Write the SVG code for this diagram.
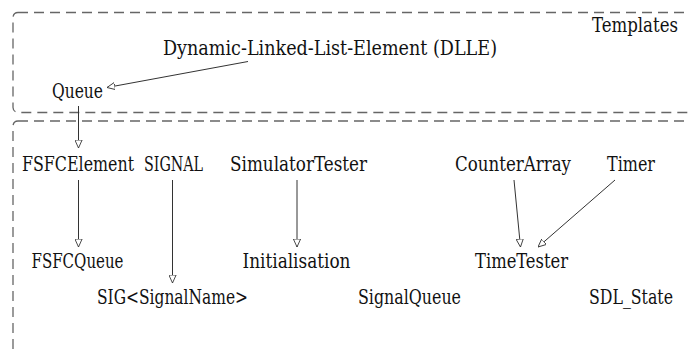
<svg xmlns="http://www.w3.org/2000/svg" width="690" height="351" viewBox="0 0 690 351">
<style>
.t{font-family:'DejaVu Serif Condensed','DejaVu Serif','Liberation Serif',serif;font-stretch:condensed;font-size:20px;fill:#111}
.box{fill:none;stroke:#666;stroke-width:1.3;stroke-dasharray:10 6}
.c{fill:none;stroke:#333;stroke-width:1}
</style>
<defs>
<marker id="h" viewBox="0 0 10 10" refX="10" refY="5" markerWidth="8" markerHeight="8" markerUnits="userSpaceOnUse" orient="auto">
<path d="M0,0.5 L10,5 L0,9.5 Z" fill="#fff" stroke="#333" stroke-width="1.1"/>
</marker>
</defs>
<g id="templates-box"><rect class="box" x="13" y="12.5" width="700" height="100" rx="5"/></g>
<g id="main-box"><rect class="box" x="13" y="121" width="700" height="260" rx="5"/></g>
<g id="connectors">
<line class="c" x1="248" y1="61.5" x2="107" y2="87.5" marker-end="url(#h)"/>
<line class="c" x1="78.5" y1="106" x2="78.5" y2="148" marker-end="url(#h)"/>
<line class="c" x1="78.5" y1="180" x2="78.5" y2="247" marker-end="url(#h)"/>
<line class="c" x1="172.5" y1="180" x2="172.5" y2="283" marker-end="url(#h)"/>
<line class="c" x1="297" y1="180" x2="297" y2="247" marker-end="url(#h)"/>
<line class="c" x1="514" y1="180" x2="520.5" y2="247" marker-end="url(#h)"/>
<line class="c" x1="615" y1="180" x2="538" y2="247" marker-end="url(#h)"/>
</g>
<g id="Templates"><text class="t" x="592" y="32" textLength="86" lengthAdjust="spacingAndGlyphs">Templates</text></g>
<g id="DLLE"><text class="t" x="163" y="55" textLength="334" lengthAdjust="spacingAndGlyphs">Dynamic-Linked-List-Element (DLLE)</text></g>
<g id="Queue"><text class="t" x="52" y="97.5" textLength="51" lengthAdjust="spacingAndGlyphs">Queue</text></g>
<g id="FSFCElement"><text class="t" x="22" y="171" textLength="112" lengthAdjust="spacingAndGlyphs">FSFCElement</text></g>
<g id="SIGNAL"><text class="t" x="144" y="171" textLength="59" lengthAdjust="spacingAndGlyphs">SIGNAL</text></g>
<g id="SimulatorTester"><text class="t" x="230" y="171" textLength="137" lengthAdjust="spacingAndGlyphs">SimulatorTester</text></g>
<g id="CounterArray"><text class="t" x="455" y="171" textLength="116" lengthAdjust="spacingAndGlyphs">CounterArray</text></g>
<g id="Timer"><text class="t" x="607" y="171" textLength="48" lengthAdjust="spacingAndGlyphs">Timer</text></g>
<g id="FSFCQueue"><text class="t" x="31.5" y="267.5" textLength="92" lengthAdjust="spacingAndGlyphs">FSFCQueue</text></g>
<g id="Initialisation"><text class="t" x="242.5" y="267.5" textLength="108" lengthAdjust="spacingAndGlyphs">Initialisation</text></g>
<g id="TimeTester"><text class="t" x="475" y="267.5" textLength="93" lengthAdjust="spacingAndGlyphs">TimeTester</text></g>
<g id="SIGSignalName"><text class="t" x="97" y="304" textLength="151" lengthAdjust="spacingAndGlyphs">SIG&lt;SignalName&gt;</text></g>
<g id="SignalQueue"><text class="t" x="358" y="304" textLength="103" lengthAdjust="spacingAndGlyphs">SignalQueue</text></g>
<g id="SDL_State"><text class="t" x="589" y="304" textLength="84" lengthAdjust="spacingAndGlyphs">SDL_State</text></g>
</svg>
